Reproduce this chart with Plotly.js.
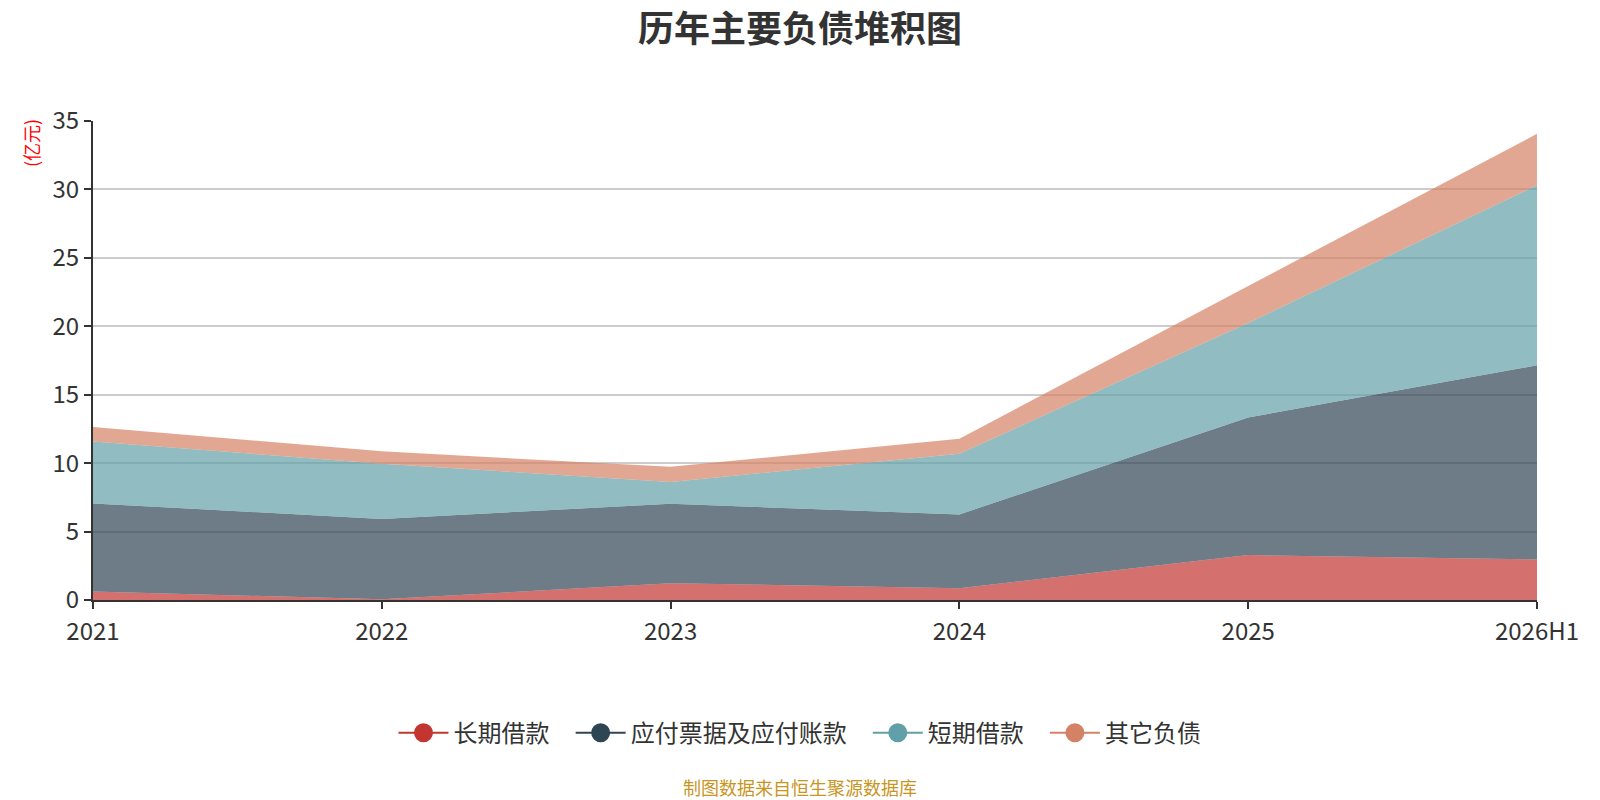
<!DOCTYPE html>
<html>
<head>
<meta charset="utf-8">
<script src="https://cdn.plot.ly/plotly-3.0.1.min.js"></script>
<style>
  html, body { margin: 0; padding: 0; background: #fff; }
  #chart { width: 1600px; height: 800px; }
</style>
</head>
<body>
<div id="chart"></div>
<script>
// values (亿元)
var years = ['2021', '2022', '2023', '2024', '2025', '2026H1'];
var longLoan = [0.62, 0.05, 1.23, 0.86, 3.28, 2.96];
var payables = [6.44, 5.87, 5.80, 5.39, 10.05, 14.19];
var shortLoan = [4.52, 4.03, 1.60, 4.44, 6.91, 13.16];
var otherDebt = [1.06, 0.91, 1.10, 1.10, 2.71, 3.75];
var seriesNames = ['长期借款', '应付票据及应付账款', '短期借款', '其它负债'];
var colors = ['#c23531', '#2f4554', '#61a0a8', '#d48265'];
var fills = ['rgba(194,53,49,0.7)', 'rgba(47,69,84,0.7)', 'rgba(97,160,168,0.7)', 'rgba(212,130,101,0.7)'];

var font = '"Noto Sans CJK SC", "Noto Sans", sans-serif';
var allSeries = [longLoan, payables, shortLoan, otherDebt];

// page centre expressed in plot-area (paper) units
var mid = (800 - 93) / (1600 - 93 - 63);

var traces = [];
allSeries.forEach(function (vals, i) {
  traces.push({
    x: years,
    y: vals,
    name: seriesNames[i],
    type: 'scatter',
    mode: 'lines',
    stackgroup: 'debt',
    line: {width: 0, color: colors[i]},
    fillcolor: fills[i],
    showlegend: false,
    hoverinfo: 'x+y+name'
  });
});
// legend entries drawn as line + dot like the original
seriesNames.forEach(function (name, i) {
  var pad = i < seriesNames.length - 1 ? '&nbsp;&nbsp;&nbsp;' : '';
  traces.push({
    x: [null],
    y: [null],
    name: name + pad,
    type: 'scatter',
    mode: 'lines+markers',
    line: {width: 2, color: colors[i]},
    marker: {size: 20, color: colors[i], line: {width: 3, color: colors[i]}},
    showlegend: true
  });
});

var layout = {
  width: 1600,
  height: 800,
  margin: {l: 93, r: 63, t: 121, b: 200},
  paper_bgcolor: '#fff',
  plot_bgcolor: '#fff',
  font: {family: font, color: '#333', size: 24},
  title: {
    text: '<b>历年主要负债堆积图</b>',
    x: 0.5,
    xanchor: 'center',
    y: 0.963,
    yanchor: 'middle',
    font: {family: font, size: 36, color: '#333'}
  },
  xaxis: {
    type: 'category',
    range: [0, 5],
    showgrid: false,
    showline: true,
    linecolor: '#333',
    linewidth: 2,
    ticks: 'outside',
    ticklen: 7,
    tickwidth: 2,
    tickcolor: '#333',
    tickfont: {size: 24, color: '#333'},
    ticklabelstandoff: 2,
    zeroline: false
  },
  yaxis: {
    range: [0, 35],
    dtick: 5,
    showgrid: true,
    gridcolor: '#cccccc',
    gridwidth: 2,
    showline: true,
    linecolor: '#333',
    linewidth: 2,
    ticks: 'outside',
    ticklen: 7,
    tickwidth: 2,
    tickcolor: '#333',
    tickfont: {size: 24, color: '#333'},
    zeroline: false
  },
  showlegend: true,
  legend: {
    orientation: 'h',
    x: mid,
    xanchor: 'center',
    y: -0.278,
    yanchor: 'middle',
    font: {size: 24, color: '#333'},
    itemwidth: 50,
    traceorder: 'normal'
  },
  annotations: [
    {
      text: '(亿元)',
      xref: 'paper', yref: 'paper',
      x: 0, y: 1,
      xshift: -62, yshift: 4,
      xanchor: 'center', yanchor: 'top',
      textangle: -90,
      showarrow: false,
      font: {family: font, size: 18, color: '#ff0000'}
    },
    {
      text: '制图数据来自恒生聚源数据库',
      xref: 'paper', yref: 'paper',
      x: mid, y: -0.39,
      xanchor: 'center', yanchor: 'middle',
      showarrow: false,
      font: {family: font, size: 18, color: '#c8951f'}
    }
  ]
};

Plotly.newPlot('chart', traces, layout, {displayModeBar: false, staticPlot: true});
</script>
</body>
</html>
